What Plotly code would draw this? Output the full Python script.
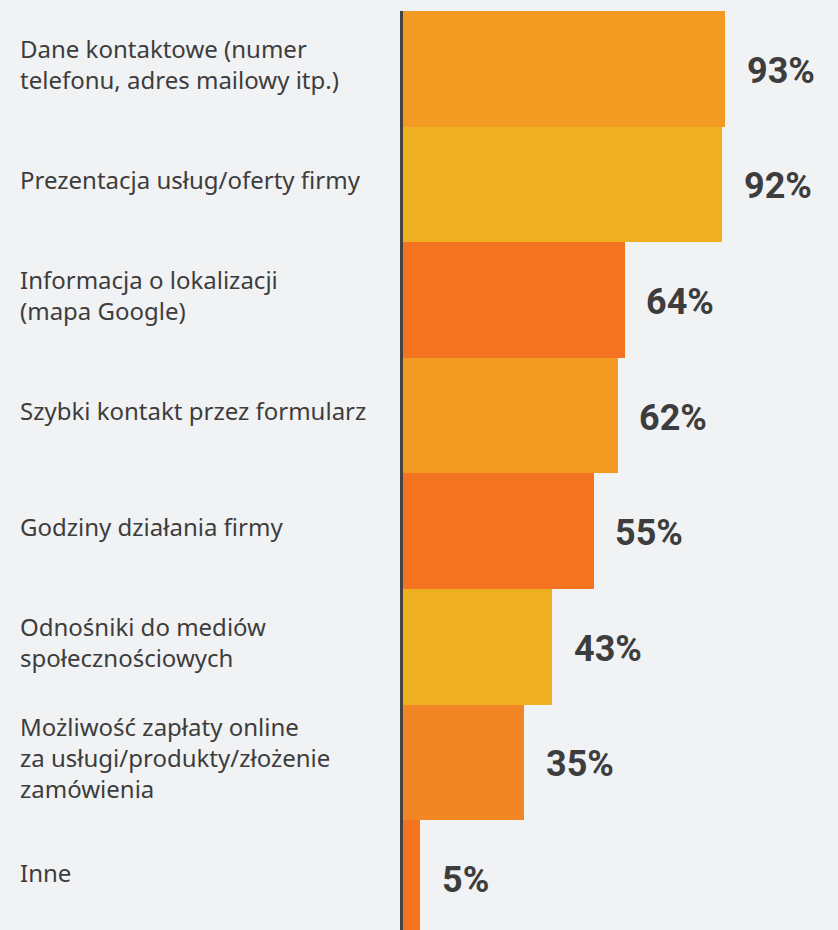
import plotly.graph_objects as go

# categories and values
categories = [
    'Dane kontaktowe (numer<br>telefonu, adres mailowy itp.)',
    'Prezentacja usług/oferty firmy',
    'Informacja o lokalizacji<br>(mapa Google)',
    'Szybki kontakt przez formularz',
    'Godziny działania firmy',
    'Odnośniki do mediów<br>społecznościowych',
    'Możliwość zapłaty online<br>za usługi/produkty/złożenie<br>zamówienia',
    'Inne',
]
values = [93, 92, 64, 62, 55, 43, 35, 5]
bar_colors = ['#F39A22', '#EEB020', '#F47320', '#F39A22',
              '#F47320', '#EEB020', '#F28624', '#F47320']

W, H = 838, 930
BG = '#F1F2F4'
positions = list(range(len(categories)))

fig = go.Figure(go.Bar(
    x=values,
    y=positions,
    orientation='h',
    marker=dict(color=bar_colors, line=dict(width=0)),
    width=1.0,
    hoverinfo='skip',
))

# value labels just beyond bar ends
for pos, v in zip(positions, values):
    fig.add_annotation(
        x=v, y=pos, xref='x', yref='y',
        text='<b>%d%%</b>' % v,
        xanchor='left', yanchor='middle', xshift=20, yshift=-2,
        showarrow=False,
        font=dict(family='Roboto', size=36, color='#3d3d3d'),
    )

# category labels, left aligned at the page edge
for pos, cat in zip(positions, categories):
    fig.add_annotation(
        x=18 / W, y=pos, xref='paper', yref='y',
        text=cat,
        xanchor='left', yanchor='middle', align='left', yshift=5,
        showarrow=False,
        font=dict(family='Noto Sans', size=24, color='#3d3d3d'),
    )

fig.update_layout(
    width=W, height=H,
    margin=dict(l=0, r=0, t=11, b=0),
    paper_bgcolor=BG,
    plot_bgcolor=BG,
    showlegend=False,
    bargap=0,
    xaxis=dict(domain=[402.5 / W, 1], range=[0, 125.6], visible=False,
               showgrid=False, zeroline=False),
    yaxis=dict(range=[7.45, -0.5], showticklabels=False, showgrid=False,
               zeroline=False, showline=True, linecolor='#444444',
               linewidth=3, ticks=''),
)

# drop the default page margin so the chart sits flush in the window
page_css = ("document.body.style.margin='0';"
            "document.body.style.background='%s';" % BG)

fig.write_html('out.html', post_script=page_css,
               config={'displayModeBar': False})
